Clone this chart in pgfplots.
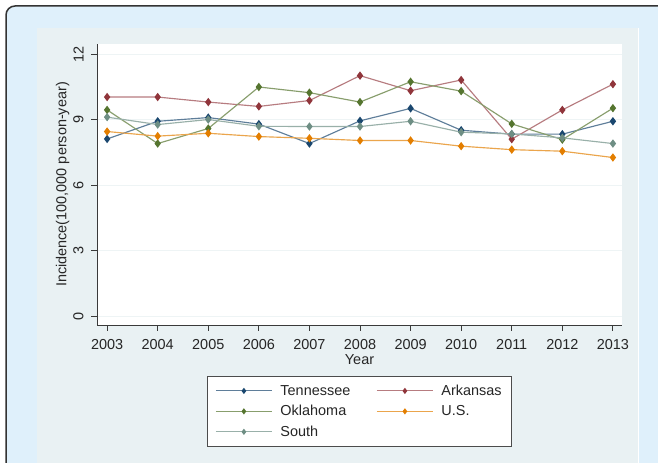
\documentclass[border=0pt]{standalone}
\usepackage{fontspec}
\setmainfont{Liberation Sans}
\usepackage{pgfplots}
\pgfplotsset{compat=1.18}
\definecolor{bgblue}{HTML}{DFF0FB}
\definecolor{bggray}{HTML}{E9F1F3}
\definecolor{gridc}{HTML}{EEF4F5}
\definecolor{axc}{HTML}{3A3A3A}
\definecolor{cnavy}{HTML}{1A476F}
\definecolor{cmaroon}{HTML}{90353B}
\definecolor{cgreen}{HTML}{55752F}
\definecolor{corange}{HTML}{E37E00}
\definecolor{cteal}{HTML}{6E8E84}
\newcommand{\fs}{\fontsize{14.5}{17}\selectfont}
\begin{document}
\begin{tikzpicture}[x=1bp,y=1bp]
\clip (0,0) rectangle (658,463);
\filldraw[fill=bgblue, draw=black!80, line width=1.5bp, rounded corners=9bp] (6,-20) rectangle (700,457);
\fill[bggray] (37,-5) rectangle (638,435);
\draw[white, line width=1bp] (638.5,-5) -- (638.5,435);
\begin{axis}[
  at={(97bp,138bp)}, anchor=south west,
  scale only axis, width=525bp, height=281bp,
  xmin=2002.8, xmax=2013.18, ymin=-0.41, ymax=12.46,
  axis x line*=bottom, axis y line*=left,
  axis line style={draw=axc, line width=0.9bp, -},
  axis background/.style={fill=white},
  xtick={2003,2004,2005,2006,2007,2008,2009,2010,2011,2012,2013},
  xticklabels={2003,2004,2005,2006,2007,2008,2009,2010,2011,2012,2013},
  ytick={0,3,6,9,12}, yticklabels={0,3,6,9,12},
  tick align=outside, major tick length=6bp,
  tick style={draw=axc, line width=0.9bp},
  ymajorgrids, grid style={draw=gridc, line width=1bp},
  tick label style={font=\fs, text=black!85},
  yticklabel style={rotate=90, anchor=south},
  yticklabel shift=4bp,
  xticklabel shift=5bp,
  label style={font=\fs, text=black!85},
  xlabel={Year}, ylabel={Incidence(100,000 person-year)},
  xlabel style={yshift=2bp},
  ylabel style={yshift=-3bp},
  legend columns=2,
  legend cell align=left,
  legend style={at={(0.5,-0.1815)}, anchor=north, draw=black!70, line width=0.9bp, fill=white, font=\fs, text=black!85,
    inner xsep=8bp, inner ysep=6.5bp, row sep=4.5bp,
    /tikz/every odd column/.append style={column sep=6bp},
    /tikz/every even column/.append style={column sep=24bp}},
  legend image code/.code={\draw[mark repeat=2,mark phase=2,mark size=2.2bp,#1] plot coordinates {(0bp,0bp) (28bp,0bp) (56bp,0bp)};},
  every axis plot/.append style={line width=1.15bp, mark=diamond*, mark size=3.3bp},
]
\addplot[color=cnavy!70!white, mark options={fill=cnavy, draw=cnavy}] coordinates {
(2003,8.11)(2004,8.92)(2005,9.09)(2006,8.79)(2007,7.90)(2008,8.94)(2009,9.51)(2010,8.51)(2011,8.33)(2012,8.33)(2013,8.92)};
\addlegendentry{Tennessee}
\addplot[color=cmaroon!65!white, mark options={fill=cmaroon, draw=cmaroon}] coordinates {
(2003,10.03)(2004,10.03)(2005,9.80)(2006,9.60)(2007,9.87)(2008,11.01)(2009,10.32)(2010,10.81)(2011,8.10)(2012,9.44)(2013,10.62)};
\addlegendentry{Arkansas}
\addplot[color=cgreen!70!white, mark options={fill=cgreen, draw=cgreen}] coordinates {
(2003,9.44)(2004,7.90)(2005,8.59)(2006,10.49)(2007,10.23)(2008,9.80)(2009,10.73)(2010,10.30)(2011,8.80)(2012,8.08)(2013,9.52)};
\addlegendentry{Oklahoma}
\addplot[color=corange!70!white, mark options={fill=corange, draw=corange}] coordinates {
(2003,8.45)(2004,8.24)(2005,8.37)(2006,8.22)(2007,8.14)(2008,8.04)(2009,8.04)(2010,7.78)(2011,7.62)(2012,7.55)(2013,7.26)};
\addlegendentry{U.S.}
\addplot[color=cteal!70!white, mark options={fill=cteal, draw=cteal}] coordinates {
(2003,9.11)(2004,8.77)(2005,9.00)(2006,8.69)(2007,8.68)(2008,8.68)(2009,8.92)(2010,8.42)(2011,8.34)(2012,8.16)(2013,7.90)};
\addlegendentry{South}
\end{axis}
\end{tikzpicture}
\end{document}
